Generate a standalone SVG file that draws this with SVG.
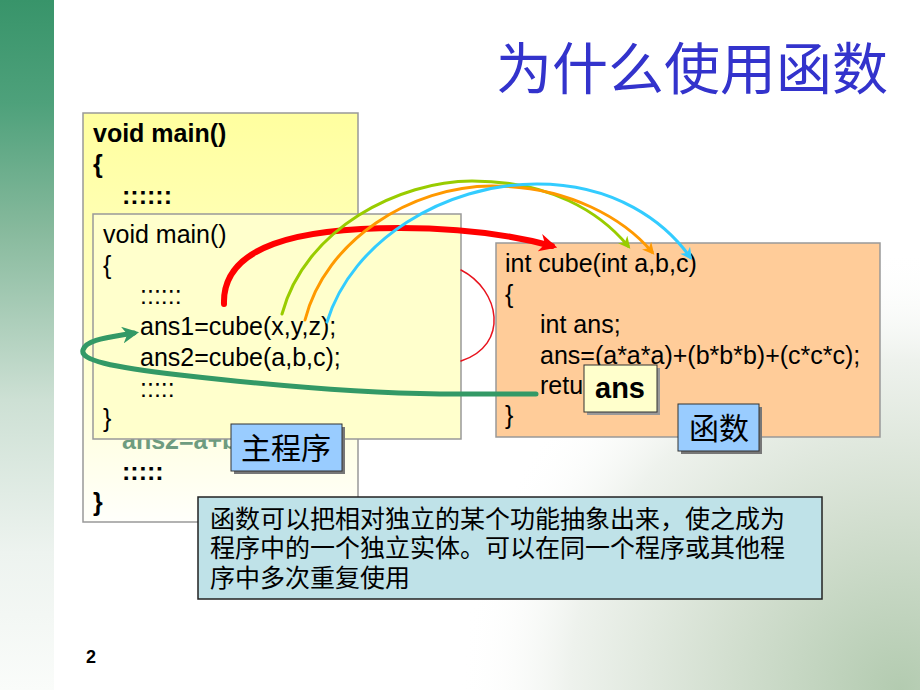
<svg xmlns="http://www.w3.org/2000/svg" width="920" height="690" viewBox="0 0 920 690">
  <defs>
    <linearGradient id="strip" x1="0" y1="0" x2="0" y2="1">
      <stop offset="0" stop-color="#38946a"/>
      <stop offset="0.15" stop-color="#4ea17b"/>
      <stop offset="0.33" stop-color="#86b99c"/>
      <stop offset="0.58" stop-color="#cde0d4"/>
      <stop offset="0.8" stop-color="#edf3ef"/>
      <stop offset="1" stop-color="#fafcfa"/>
    </linearGradient>
    <radialGradient id="bgimg" cx="900" cy="690" r="440" gradientUnits="userSpaceOnUse">
      <stop offset="0" stop-color="#b3cbb0"/>
      <stop offset="0.4" stop-color="#d3dfd0"/>
      <stop offset="0.75" stop-color="#eef2ed"/>
      <stop offset="1" stop-color="#ffffff" stop-opacity="0"/>
    </radialGradient>
    <linearGradient id="backfill" x1="0" y1="0" x2="0" y2="1">
      <stop offset="0" stop-color="#ffff9f"/>
      <stop offset="0.45" stop-color="#ffffc0"/>
      <stop offset="1" stop-color="#fffffb"/>
    </linearGradient>
    <marker id="ah-red" viewBox="0 0 10 10" refX="7" refY="5" markerWidth="18" markerHeight="18" markerUnits="userSpaceOnUse" orient="auto">
      <path d="M0,0 L10,5 L0,10 L3,5 z" fill="#ff0000"/>
    </marker>
    <marker id="ah-lime" viewBox="0 0 10 10" refX="7" refY="5" markerWidth="12" markerHeight="12" markerUnits="userSpaceOnUse" orient="auto">
      <path d="M0,0 L10,5 L0,10 L3,5 z" fill="#99cc00"/>
    </marker>
    <marker id="ah-orange" viewBox="0 0 10 10" refX="7" refY="5" markerWidth="12" markerHeight="12" markerUnits="userSpaceOnUse" orient="auto">
      <path d="M0,0 L10,5 L0,10 L3,5 z" fill="#ff9900"/>
    </marker>
    <marker id="ah-cyan" viewBox="0 0 10 10" refX="7" refY="5" markerWidth="12" markerHeight="12" markerUnits="userSpaceOnUse" orient="auto">
      <path d="M0,0 L10,5 L0,10 L3,5 z" fill="#33ccff"/>
    </marker>
    <marker id="ah-green" viewBox="0 0 10 10" refX="7" refY="5" markerWidth="17" markerHeight="17" markerUnits="userSpaceOnUse" orient="auto">
      <path d="M0,0 L10,5 L0,10 L3,5 z" fill="#339966"/>
    </marker>
  </defs>
  <style>
    .code { font-family: "Liberation Sans", Arial, sans-serif; font-size: 25px; fill: #000; }
    .bold { font-family: "Liberation Sans", Arial, sans-serif; font-size: 25px; font-weight: bold; fill: #000; }
    .cjk { font-family: "Noto Sans CJK SC", "Noto Sans CJK TC", sans-serif; fill: #000; }
    .lbl { fill: #99ccff; stroke: #333; stroke-width: 1; }
    .shadow { fill: #777; }
    .conn { fill: none; stroke-linecap: round; }
  </style>

  <!-- background -->
  <rect x="0" y="0" width="920" height="690" fill="#ffffff"/>
  <rect x="300" y="250" width="620" height="440" fill="url(#bgimg)"/>
  <rect x="0" y="0" width="54" height="690" fill="url(#strip)"/>

  <text x="496" y="89" font-family="Liberation Sans, Noto Sans CJK SC, sans-serif" font-size="56" fill="#3333cc">为什么使用函数</text>

  <g id="outer-main">
    <rect x="83" y="113" width="275" height="409" fill="url(#backfill)" stroke="#999" stroke-width="1.5"/>
    <text class="bold" x="93" y="142">void main()</text>
    <text class="bold" x="93" y="173">{</text>
    <text class="bold" x="122" y="204">::::::</text>
    <text class="bold" x="122" y="449" style="fill:#6e9c7f">ans2=a+b</text>
    <text class="bold" x="122" y="480">:::::</text>
    <text class="bold" x="93" y="511">}</text>
  </g>

  <g id="main-program">
    <rect x="93" y="214" width="368" height="225" fill="#ffffcc" stroke="#999" stroke-width="1.5"/>
    <text class="code" x="103" y="243">void main()</text>
    <text class="code" x="103" y="274">{</text>
    <text class="code" x="140" y="304">::::::</text>
    <text class="code" x="140" y="335">ans1=cube(x,y,z);</text>
    <text class="code" x="140" y="366">ans2=cube(a,b,c);</text>
    <text class="code" x="140" y="397">:::::</text>
    <text class="code" x="103" y="427">}</text>
  </g>

  <g id="cube-function">
    <rect x="496" y="243" width="384" height="194" fill="#ffcc99" stroke="#999" stroke-width="1.5"/>
    <text class="code" x="505" y="272">int cube(int a,b,c)</text>
    <text class="code" x="505" y="303">{</text>
    <text class="code" x="540" y="333">int ans;</text>
    <text class="code" x="540" y="364">ans=(a*a*a)+(b*b*b)+(c*c*c);</text>
    <text class="code" x="540" y="394">return ans;</text>
    <text class="code" x="505" y="424">}</text>
  </g>

  <g id="connectors">
    <path class="conn" d="M461,270 C500,290 510,345 461,361" stroke="#e8141e" stroke-width="1.5"/>
    <path class="conn" d="M224,304 C222,245 300,228 400,228 C470,228 515,236 552,246" stroke="#ff0000" stroke-width="6" marker-end="url(#ah-red)"/>
    <path class="conn" d="M282,314 C305,228 400,181 472,181 C550,181 600,212 628,246" stroke="#99cc00" stroke-width="3" marker-end="url(#ah-lime)"/>
    <path class="conn" d="M305,320 C325,240 412,186 492,186 C570,186 625,220 652,252" stroke="#ff9900" stroke-width="3" marker-end="url(#ah-orange)"/>
    <path class="conn" d="M327,322 C352,240 445,184 537,184 C615,184 665,222 690,257" stroke="#33ccff" stroke-width="3" marker-end="url(#ah-cyan)"/>
    <path class="conn" d="M536,394 L440,394 C350,393 250,383 180,375 C110,367 80,360 83,350 C86,340 105,338 134,333" stroke="#339966" stroke-width="5" marker-end="url(#ah-green)"/>
  </g>

  <g id="ans-box">
    <rect x="587" y="368" width="73" height="47" style="fill:#999"/>
    <rect x="584" y="365" width="73" height="47" fill="#ffffcc" stroke="#333" stroke-width="1"/>
    <text x="595" y="398" font-family="Liberation Sans, Arial, sans-serif" font-size="29" font-weight="bold" fill="#000">ans</text>
  </g>

  <g id="label-main">
    <rect x="234" y="427" width="111" height="47" class="shadow"/>
    <rect x="231" y="424" width="111" height="47" class="lbl"/>
    <text class="cjk" x="241" y="459" font-size="30">主程序</text>
  </g>

  <g id="label-func">
    <rect x="681" y="407" width="81" height="47" class="shadow"/>
    <rect x="678" y="404" width="81" height="47" class="lbl"/>
    <text class="cjk" x="689" y="439" font-size="30">函数</text>
  </g>

  <g id="description">
    <rect x="198" y="497" width="624" height="102" fill="#bfe2e8" stroke="#222" stroke-width="1.5"/>
    <text class="cjk" x="210" y="528" font-size="25">函数可以把相对独立的某个功能抽象出来，使之成为</text>
    <text class="cjk" x="210" y="557" font-size="25">程序中的一个独立实体。可以在同一个程序或其他程</text>
    <text class="cjk" x="210" y="587" font-size="25">序中多次重复使用</text>
  </g>

  <text x="86" y="663" font-family="Liberation Sans, Arial, sans-serif" font-size="18" font-weight="bold" fill="#000">2</text>
</svg>
